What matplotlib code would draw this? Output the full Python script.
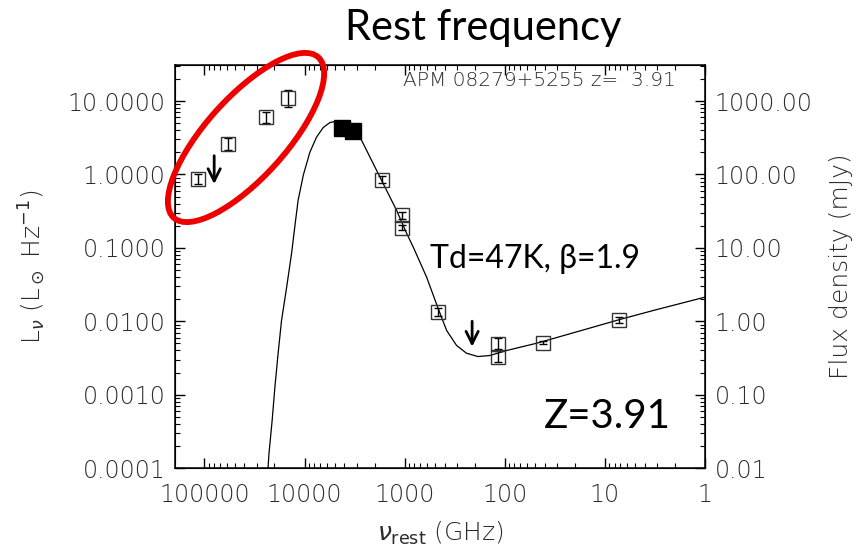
"""
SED of APM 08279+5255 (z = 3.91), rest-frame luminosity vs rest frequency
"""

import matplotlib
matplotlib.use("Agg")
import matplotlib.pyplot as plt
from matplotlib.patches import Ellipse
from matplotlib.ticker import LogLocator, FuncFormatter, NullFormatter
import numpy as np

# ── data ───────────────────────────────────────────────────────────────────
# open squares with error bars (nu_rest in GHz, L_nu in L_sun/Hz, error in dex)
obs_nu  = [115600, 58000, 24400, 14600, 1700, 1075, 1060, 462, 116, 116, 41.3, 7.2]
obs_L   = [0.86, 2.59, 5.98, 10.9, 0.853, 0.278, 0.189, 0.0133, 0.00492, 0.0033, 0.00508, 0.0105]
obs_err = [0.07, 0.085, 0.07, 0.12, 0.05, 0.05, 0.04, 0.05, 0.075, 0.075, 0.02, 0.04]

# filled squares
fill_nu = [4210, 3270]
fill_L  = [4.33, 3.89]

# upper limits (arrow from top value down to head value)
lim_nu   = [80000, 212]
lim_top  = [1.80, 0.0100]
lim_head = [0.74, 0.0045]

# model curve (Td=47K, beta=1.9 fit)
fit_nu = [23800, 22700, 21100, 19800, 18400, 17000, 15100, 13500, 12300, 11600,
          10300, 8850, 7590, 6520, 5590, 4760, 4050, 3370, 2700, 2230,
          1910, 1520, 1205, 957, 822, 604, 462, 381, 303, 241,
          185, 141, 95.9, 48.1, 22.4, 7.19, 3.29, 1.0]
fit_L  = [5.7e-5, 1.55e-4, 4.4e-4, 1.26e-3, 3.6e-3, 0.0102, 0.0292, 0.0834, 0.237, 0.445,
          0.977, 2.01, 3.23, 4.35, 5.09, 5.33, 5.01, 4.15, 2.94, 1.74,
          1.14, 0.610, 0.325, 0.158, 0.1026, 0.0399, 0.0148, 0.00748, 0.00467, 0.00366,
          0.00330, 0.00341, 0.00399, 0.00501, 0.00674, 0.0105, 0.0140, 0.0213]

x_ticks = [100000, 10000, 1000, 100, 10, 1]
mjy_per_lsun = 100.0   # right axis = left axis x 100

idl_color = "#2b2b2b"
idl_font = "DejaVu Sans"

fig = plt.figure(figsize=(8.57, 5.49), dpi=100)
ax = fig.add_axes([175/857, 81/549, 530/857, 403/549])

ax.plot(fit_nu, fit_L, color="black", lw=0.9, zorder=2)

lo = [L - L / 10**e for L, e in zip(obs_L, obs_err)]
hi = [L * 10**e - L for L, e in zip(obs_L, obs_err)]
ax.errorbar(obs_nu, obs_L, yerr=[lo, hi], fmt="none", ecolor="black",
            elinewidth=1, capsize=3, capthick=1, zorder=3)
ax.plot(obs_nu, obs_L, "s", mfc="none", mec="#333333", ms=10, mew=1, zorder=3)
ax.plot(fill_nu, fill_L, "s", mfc="black", mec="black", ms=12, zorder=4)

for n, t, h in zip(lim_nu, lim_top, lim_head):
    ax.annotate("", xy=(n, h), xytext=(n, t),
                arrowprops=dict(arrowstyle="->", lw=2.0, color="black",
                                mutation_scale=22, shrinkA=0, shrinkB=0))

ax.set_xscale("log")
ax.set_yscale("log")
ax.set_xlim(1.97e5, 1)
ax.set_ylim(1e-4, 31)

ax.xaxis.set_major_locator(LogLocator(base=10, numticks=20))
ax.xaxis.set_minor_locator(LogLocator(base=10, subs=np.arange(2, 10), numticks=20))
ax.xaxis.set_minor_formatter(NullFormatter())
ax.set_xticks(x_ticks, labels=[str(v) for v in x_ticks])

ax.yaxis.set_major_locator(LogLocator(base=10, numticks=20))
ax.yaxis.set_minor_locator(LogLocator(base=10, subs=np.arange(2, 10), numticks=20))
ax.yaxis.set_minor_formatter(NullFormatter())
ax.yaxis.set_major_formatter(FuncFormatter(lambda v, p: f"{v:.4f}"))

ax.tick_params(which="both", direction="in", top=True, right=False,
               colors="black", labelcolor=idl_color, labelsize=17, pad=7)
ax.tick_params(axis="x", pad=11)
ax.tick_params(which="major", length=7, width=1)
ax.tick_params(which="minor", length=3.6, width=0.8)
for lab in ax.get_xticklabels() + ax.get_yticklabels():
    lab.set_fontfamily(idl_font)
    lab.set_fontweight("light")
for s in ax.spines.values():
    s.set_linewidth(1.1)

ax2 = ax.twinx()
ax2.set_yscale("log")
ax2.set_ylim(1e-4 * mjy_per_lsun, 31 * mjy_per_lsun)
ax2.yaxis.set_major_locator(LogLocator(base=10, numticks=20))
ax2.yaxis.set_minor_locator(LogLocator(base=10, subs=np.arange(2, 10), numticks=20))
ax2.yaxis.set_minor_formatter(NullFormatter())
ax2.yaxis.set_major_formatter(FuncFormatter(lambda v, p: f"{v:.2f}"))
ax2.tick_params(which="both", direction="in", colors="black",
                labelcolor=idl_color, labelsize=17, pad=7)
ax2.tick_params(which="major", length=7, width=1)
ax2.tick_params(which="minor", length=3.6, width=0.8)
for lab in ax2.get_yticklabels():
    lab.set_fontfamily(idl_font)
    lab.set_fontweight("light")

ax.set_ylabel(r"L$_\nu$ (L$_\odot$ Hz$^{-1}$)", fontsize=18, color=idl_color,
              family=idl_font, fontweight="light", labelpad=14)
ax2.set_ylabel("Flux density (mJy)", fontsize=18, color=idl_color,
               family=idl_font, fontweight="light", labelpad=12)
ax.set_xlabel(r"$\nu_{\rm rest}$ (GHz)", fontsize=18, color=idl_color,
              family=idl_font, fontweight="light", labelpad=9)

ax.text(0.945, 0.962, "APM 08279+5255 z=  3.91", transform=ax.transAxes,
        ha="right", va="center", fontsize=14.5, color=idl_color, family=idl_font,
        fontweight="light")

# slide annotations
fig.text(483/857, 1 - 28/549, "Rest frequency", ha="center", va="center",
         fontsize=30, family="Lato", color="black")
fig.text(535/857, 1 - 259/549, "Td=47K, β=1.9", ha="center", va="center",
         fontsize=23, family="Lato", color="black")
fig.text(607/857, 1 - 417/549, "Z=3.91", ha="center", va="center",
         fontsize=29, family="Lato", color="black")
fig.add_artist(Ellipse((2.46, (549 - 137.5) / 100), width=2.16, height=0.80,
                       angle=48, transform=fig.dpi_scale_trans,
                       fill=False, ec="#ee0000", lw=4.2))

plt.savefig("out.png", dpi=100)
print("Saved: out.png")
